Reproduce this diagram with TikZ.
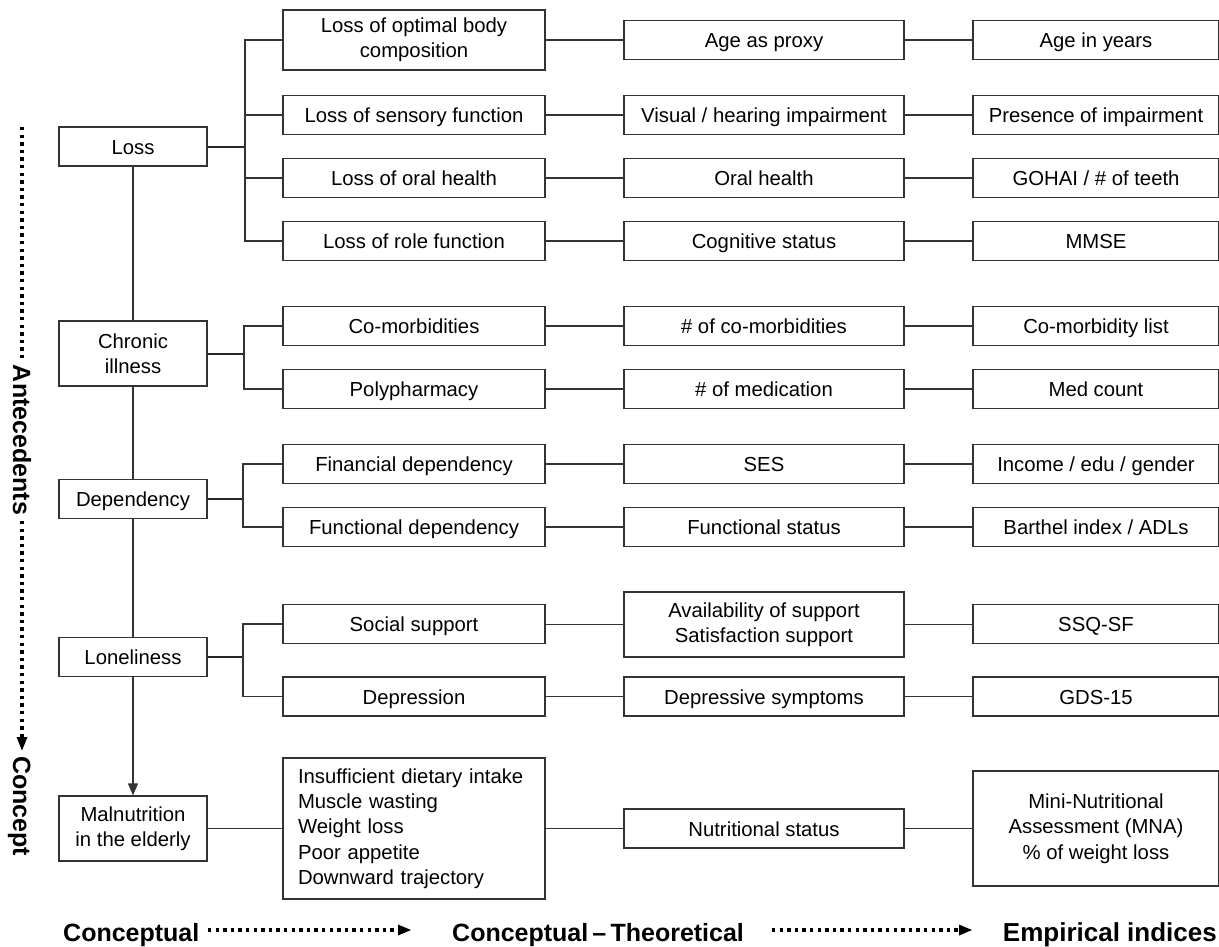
\documentclass[tikz,border=0pt]{standalone}
\usepackage{fontspec}
\setmainfont{Liberation Sans}
\usetikzlibrary{arrows.meta}
\begin{document}
\begin{tikzpicture}[x=1pt,y=-1pt,
  font=\fontsize{20.3}{25.3}\selectfont,
  box/.style={draw=black!80, line width=1.2pt, inner sep=0pt, minimum height=39pt, align=center, text=black},
  sgl/.style={box, text height=15.5pt, text depth=0pt},
  w1/.style={minimum width=148pt},
  w2/.style={minimum width=262pt},
  w3/.style={minimum width=280pt},
  w4/.style={minimum width=246pt},
  c1/.style={sgl, w1},
  c2/.style={sgl, w2},
  c3/.style={sgl, w3},
  c4/.style={sgl, w4},
  ln/.style={draw=black!80, line width=1.2pt},
  stub/.style={draw=black!85, line width=2pt},
  dots/.style={draw=black, line width=4.4pt, dash pattern=on 3.3pt off 4.3pt},
  head/.style={fill=black},
  axis/.style={font=\bfseries\fontsize{#1}{#1}\selectfont, inner sep=0pt}
]
\useasboundingbox (0,0) rectangle (1219,946);

% column 1
\node[c1] (loss) at (133,146.5) {Loss};
\node[box, w1, minimum height=65pt] (chron) at (133,353.5) {Chronic\\illness};
\node[c1] (dep) at (133,499) {Dependency};
\node[c1] (lon) at (133,657) {Loneliness};
\node[box, w1, minimum height=65pt] (mal) at (133,828.5) {Malnutrition\\in the elderly};

% column 2
\node[box, w2, minimum height=60pt] (a1) at (414,40) {Loss of optimal body\\composition};
\node[c2] (a2) at (414,115) {Loss of sensory function};
\node[c2] (a3) at (414,178) {Loss of oral health};
\node[c2] (a4) at (414,241) {Loss of role function};
\node[c2] (a5) at (414,326) {Co-morbidities};
\node[c2] (a6) at (414,389) {Polypharmacy};
\node[c2] (a7) at (414,464) {Financial dependency};
\node[c2] (a8) at (414,527) {Functional dependency};
\node[c2] (a9) at (414,624) {Social support};
\node[c2] (a10) at (414,696.5) {Depression};
\node[box, minimum height=141pt, text width=232pt, inner xsep=15pt, align=left] (a11) at (414,828.5)
  {Insufficient dietary intake\\Muscle wasting\\Weight loss\\Poor appetite\\Downward trajectory};

% column 3
\node[c3] (t1) at (764,40) {Age as proxy};
\node[c3] (t2) at (764,115) {Visual / hearing impairment};
\node[c3] (t3) at (764,178) {Oral health};
\node[c3] (t4) at (764,241) {Cognitive status};
\node[c3] (t5) at (764,326) {\# of co-morbidities};
\node[c3] (t6) at (764,389) {\# of medication};
\node[c3] (t7) at (764,464) {SES};
\node[c3] (t8) at (764,527) {Functional status};
\node[box, w3, minimum height=65pt] (t9) at (764,624.5) {Availability of support\\Satisfaction support};
\node[c3] (t10) at (764,696.5) {Depressive symptoms};
\node[c3] (t11) at (764,828.5) {Nutritional status};

% column 4
\node[c4] (e1) at (1096,40) {Age in years};
\node[c4] (e2) at (1096,115) {Presence of impairment};
\node[c4] (e3) at (1096,178) {GOHAI / \# of teeth};
\node[c4] (e4) at (1096,241) {MMSE};
\node[c4] (e5) at (1096,326) {Co-morbidity list};
\node[c4] (e6) at (1096,389) {Med count};
\node[c4] (e7) at (1096,464) {Income / edu / gender};
\node[c4] (e8) at (1096,527) {Barthel index / ADLs};
\node[c4] (e9) at (1096,624) {SSQ-SF};
\node[c4] (e10) at (1096,696.5) {GDS-15};
\node[box, w4, minimum height=115pt] (e11) at (1096,828.5) {Mini-Nutritional\\Assessment (MNA)\\\% of weight loss};

% column 1 spine
\draw[ln] (loss) -- (chron);
\draw[ln] (chron) -- (dep);
\draw[ln] (dep) -- (lon);
\draw[ln, -{Triangle[length=12pt,width=10pt]}] (lon) -- (mal);
\draw[ln] (mal) -- (a11);

% branches
\coordinate (b1) at (245,146.5);
\draw[stub] (loss.east) -- (b1);
\draw[ln] (a1.west) -- (a1.west -| b1) -- (a4.west -| b1) -- (a4.west);
\draw[ln] (a2.west) -- (a2.west -| b1);
\draw[ln] (a3.west) -- (a3.west -| b1);

\coordinate (b2) at (244,353.5);
\draw[stub] (chron.east) -- (b2);
\draw[ln] (a5.west) -- (a5.west -| b2) -- (a6.west -| b2) -- (a6.west);

\coordinate (b3) at (243,499);
\draw[stub] (dep.east) -- (b3);
\draw[ln] (a7.west) -- (a7.west -| b3) -- (a8.west -| b3) -- (a8.west);

\coordinate (b4) at (243,657);
\draw[stub] (lon.east) -- (b4);
\draw[ln] (a9.west) -- (a9.west -| b4) -- (a10.west -| b4) -- (a10.west);

% rows
\foreach \i in {1,...,11}{
  \draw[ln] (a\i.east |- t\i.west) -- (t\i.west);
  \draw[ln] (t\i.east) -- (e\i.west |- t\i.east);
}

% left axis
\draw[dots] (22,127) -- (22,360);
\draw[dots] (22,521) -- (22,737);
\fill[head] (16.5,737) -- (27.5,737) -- (22,750.5) -- cycle;
\node[axis=25, rotate=-90, anchor=base] (ante) at (13,440) {Antecedents};
\node[axis=25, rotate=-90, anchor=base] (conc) at (13,806) {Concept};

% bottom axis
\node[axis=25, anchor=base west] (xc) at (63,941) {Conceptual};
\node[axis=25, anchor=base west] (xt) at (452,941) {Conceptual\,–\,Theoretical};
\node[axis=26, anchor=base east] (xe) at (1217,941) {Empirical indices};
\draw[dots] (208,930) -- (398,930);
\fill[head] (398,924.5) -- (398,935.5) -- (411,930) -- cycle;
\draw[dots] (772,930) -- (959,930);
\fill[head] (959,924.5) -- (959,935.5) -- (972,930) -- cycle;
\end{tikzpicture}
\end{document}
